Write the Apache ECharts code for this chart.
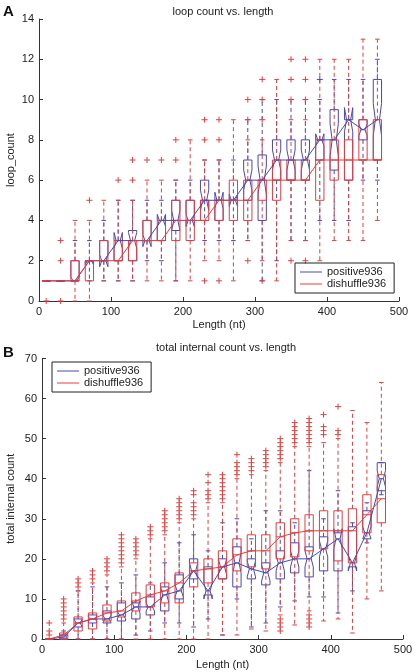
<!DOCTYPE html>
<html><head><meta charset="utf-8">
<script src="https://cdn.jsdelivr.net/npm/echarts@6/dist/echarts.min.js"></script>
<style>html,body{margin:0;padding:0;background:#fff}#c{width:415px;height:672px}</style>
</head><body><div id="c"></div>
<script>
// Bin centres (nt)
const binCenters = [10,30,50,70,90,110,130,150,170,190,210,230,250,270,290,310,330,350,370,390,410,430,450,470];

// Panel A: loop count. Each row: [lowWhisker, q1, median, q3, highWhisker]
const aPositiveStats = [
  [1,1,1,1,1],[1,1,1,1,1],[1,1,1,2,3],[1,2,2,2,3],[1,2,2,3,4],[1,2,3,3,5],
  [1,2,3,3.5,5],[2,3,3,4,5],[2,3,4,4,5],[1,3.5,4,5,6],[3,4,4,5,6],[3,5,5,6,7],
  [3,4,5,5,7],[3,5,5,5,7],[3,5,6,7,9],[1,4,6,7.25,10],[2,6,7,8,10],[3,6,7,8,10],
  [3,6,7,8,10],[4,7,8,8,10],[4,6.5,8,9.5,11],[4,6,9,9,11],[6,8,8.5,9,11],[6,7,9,11,12]
];
const aPositiveNotch = [
  [1,1],[1,1],[1,1.2],[1.8,2],[1.7,2.3],[2.6,3.4],[2.6,3.4],[2.7,3.3],[3.7,4.3],[3.5,4.5],
  [3.7,4.3],[4.5,5.5],[4.6,5.4],[4.7,5.3],[5.5,6.5],[5.3,6.7],[6.5,7.5],[6.5,7.5],[6.5,7.5],
  [7.7,8.3],[7.2,8.8],[8.4,9.6],[8.2,8.8],[8.2,9.8]
];
const aPositiveOutliers = [[],[],[],[],[],[],[],[],[],[],[],[],[],[],[],[],[],[],[],[11],[],[],[],[]];
const aDishuffleStats = [
  [1,1,1,1,1],[1,1,1,1,1],[0,1,1,2,4],[0,1,2,2,4],[1,2,2,3,5],[1,2,2,3,5],
  [1,2,3,3,5],[1,3,3,4,6],[1,3,3,4,6],[1,3,4,5,6],[1,3,4,5,8],[2,4,4,5,7],
  [2,4,5,5,7],[1,4,5,6,9],[3,4,5,6,8],[2,5,6,6,8],[1,5,6,7,11],[3,6,6,7,9],
  [3,6,6,7,9],[2,5,7,8,12],[3,6,7,8,12],[3,6,7,8,12],[3,7,7,9,13],[4,7,7,9,13]
];
const aDishuffleOutliers = [
  [0],[0,2,3],[],[5],[],[6],[6,7],[7],[7],[7,8],[],[1,8,9],
  [1,8,9],[],[2,9,10],[1,9,10,11],[],[2,10,11,12],[2,10,11,12],[],[],[],[],[]
];

// Panel B: total internal count
const bPositiveStats = [
  [0,0,0,0,0],[0,0,0.5,1,2],[0,3,4,5,12],[0,4,5,6,13],[0,4,5,7,13],[0,4.5,6,9,14],
  [1,5,8,9,16],[2,6,8,10.5,14],[4,7,11,13,19],[4,10,12,16,24],[3,15,17,20,26],[5,11,12,18,22],
  [1,15,18,20,29],[10,13,19,23,30],[3,15,17.5,20,25],[4,13.5,16.5,19,32],[8,15,19,22,32],[9.5,16.5,20,24,29],
  [10.5,15.5,20,23,42],[10.5,17,22.5,25.5,30],[6.5,17,25,26.5,37],[12,18,19,28,29],[24,25,26.5,32,34],[36,37,40,44,44]
];
const bPositiveNotch = [
  [0,0],[0,1],[3,5],[4.5,5.5],[4,6],[5,7],[6.5,9.5],[7,9],[9,13],[10.5,13.5],[15,19],[10,14],
  [16,20],[16.5,21.5],[15.5,19.5],[14.5,18.5],[17,21],[18,22],[18,22],[20.5,24.5],[22.5,27.5],[17,21],[25,28],[38,42]
];
const bPositiveOutliers = [[],[],[],[],[],[],[],[],[],[],[],[],[],[],[],[],[],[],[],[],[],[],[],[]];
const bDishuffleStats = [
  [0,0,0,0,0],[0,0,1,1.5,4],[0,2,4,5.5,12],[0,2.5,5,6.5,14],[0,4.5,6.5,8.5,16],[0,5.5,7,9.5,18],
  [0,7,9.5,11.5,20],[0,8,11,13.5,25],[0,9,12,14,26],[0,9,14,16.5,29],[0,13,17,19,30],[0,14,17.5,20,34],
  [1,15,18,22,34],[1,17,21,25,40],[2.5,18,22,26,41],[2,17.5,22,26,42],[6,20,25.5,29,44],[3.5,20.5,26.5,30,48],
  [7,22,27,31,48],[4.5,22.5,27,32,49],[5,19.5,27,32,50],[1.5,19,27,32.5,57],[10,26.5,31,36,54],[12,29,35,41,64]
];
const bDishuffleOutliers = [
  [1,2,4],[5,6,7,8,9,10],[13,14,15],[15,16,17],[17,18,19,20],[19,20,21,22,23,24,25,26],
  [21,22,23,24,25],[26,27,28],[27,28,29,30,31,32],[30,31,32,33,34,35],[31,32,33,34,36,37],[35,36,37,39,41],
  [35,36,37,38,39,40,41],[41,42,43,44,46],[42,43,44,45],[43,44,45,46,47],[2,3,4,5,45,46,47,48,49,50],[49,50,51,52,53,54],
  [3,4,5,6,49,50,51,52,53,54,55],[51,52,53,56],[51,52,58],[],[],[]
];

const RED = '#e63c3c', BLUE = '#4848b4', AXC = '#333';
const BOXW = 11.5;
const FONT = 'Liberation Sans, Arial, sans-serif';

function boxSeries(gi, stats, notch, color, z) {
  const data = binCenters.map((x, i) => [x].concat(stats[i], notch ? notch[i] : [stats[i][2], stats[i][2]]));
  return {
    type: 'custom', xAxisIndex: gi, yAxisIndex: gi, data: data, z: z, silent: true,
    renderItem: function (params, api) {
      const x = api.value(0), lw = api.value(1), q1 = api.value(2), md = api.value(3),
            q3 = api.value(4), uw = api.value(5), nl = api.value(6), nh = api.value(7);
      const y = v => api.coord([x, v])[1];
      const px = api.coord([x, md])[0];
      const hw = api.size([BOXW, 0])[0] / 2;
      const cw = hw * 0.55;
      const st = { stroke: color, lineWidth: 1, fill: null };
      const dash = { stroke: color, lineWidth: 1, lineDash: [4, 3], fill: null };
      const ch = [];
      if (uw > q3) ch.push({ type: 'line', shape: { x1: px, y1: y(q3), x2: px, y2: y(uw) }, style: dash });
      if (lw < q1) ch.push({ type: 'line', shape: { x1: px, y1: y(q1), x2: px, y2: y(lw) }, style: dash });
      ch.push({ type: 'line', shape: { x1: px - cw, y1: y(uw), x2: px + cw, y2: y(uw) }, style: st });
      ch.push({ type: 'line', shape: { x1: px - cw, y1: y(lw), x2: px + cw, y2: y(lw) }, style: st });
      let pts;
      if (notch) {
        pts = [[px - hw, y(q1)], [px - hw, y(nl)], [px - hw / 2, y(md)], [px - hw, y(nh)], [px - hw, y(q3)],
               [px + hw, y(q3)], [px + hw, y(nh)], [px + hw / 2, y(md)], [px + hw, y(nl)], [px + hw, y(q1)]];
      } else {
        pts = [[px - hw, y(q1)], [px - hw, y(q3)], [px + hw, y(q3)], [px + hw, y(q1)]];
      }
      ch.push({ type: 'polygon', shape: { points: pts }, style: st });
      const mw = notch ? hw / 2 : hw;
      ch.push({ type: 'line', shape: { x1: px - mw, y1: y(md), x2: px + mw, y2: y(md) }, style: st });
      return { type: 'group', children: ch };
    }
  };
}

function outlierSeries(gi, outs, color, z) {
  const data = [];
  binCenters.forEach((x, i) => outs[i].forEach(v => data.push([x, v])));
  return {
    type: 'custom', xAxisIndex: gi, yAxisIndex: gi, data: data, z: z, silent: true,
    renderItem: function (params, api) {
      const c = api.coord([api.value(0), api.value(1)]);
      const s = 3;
      return { type: 'group', children: [
        { type: 'line', shape: { x1: c[0] - s, y1: c[1], x2: c[0] + s, y2: c[1] }, style: { stroke: color, lineWidth: 1 } },
        { type: 'line', shape: { x1: c[0], y1: c[1] - s, x2: c[0], y2: c[1] + s }, style: { stroke: color, lineWidth: 1 } }
      ] };
    }
  };
}

function medianLine(gi, stats, color, name, z) {
  return {
    type: 'line', name: name, xAxisIndex: gi, yAxisIndex: gi, z: z, silent: true,
    data: binCenters.map((x, i) => [x, stats[i][2]]),
    symbol: 'none', lineStyle: { color: color, width: 1 }, itemStyle: { color: color }, animation: false
  };
}

function xAx(gi, gap) {
  return {
    type: 'value', gridIndex: gi, min: 0, max: 500, interval: 100,
    name: 'Length (nt)', nameLocation: 'middle', nameGap: gap, nameMoveOverlap: false,
    nameTextStyle: { fontSize: 11, color: '#222', fontFamily: FONT },
    axisLine: { show: true, lineStyle: { color: AXC, width: 1 } },
    axisTick: { show: true, inside: true, length: 4, lineStyle: { color: AXC } },
    axisLabel: { fontSize: 11, color: '#222', margin: 5, fontFamily: FONT },
    splitLine: { show: false }
  };
}
function yAx(gi, max, interval, name, gap) {
  return {
    type: 'value', gridIndex: gi, min: 0, max: max, interval: interval,
    name: name, nameLocation: 'middle', nameGap: gap, nameRotate: 90, nameMoveOverlap: false,
    nameTextStyle: { fontSize: 11, color: '#222', fontFamily: FONT },
    axisLine: { show: true, lineStyle: { color: AXC, width: 1 } },
    axisTick: { show: true, inside: true, length: 4, lineStyle: { color: AXC } },
    axisLabel: { fontSize: 11, color: '#222', margin: 5, fontFamily: FONT },
    splitLine: { show: false }
  };
}
function legendAt(left, top) {
  return {
    orient: 'vertical', left: left, top: top, data: ['positive936', 'dishuffle936'],
    icon: 'rect', itemWidth: 22, itemHeight: 1, itemGap: 0, selectedMode: false,
    borderColor: '#222', borderWidth: 1, borderRadius: 0, padding: [3, 8, 3, 5],
    textStyle: { fontSize: 11, color: '#222', fontFamily: FONT, lineHeight: 12 }
  };
}

const chart = echarts.init(document.getElementById('c'), null, { renderer: 'canvas' });
chart.setOption({
  animation: false,
  backgroundColor: '#fff',
  title: [
    { text: 'loop count vs. length', left: 218, top: 1, textAlign: 'center',
      textStyle: { fontSize: 11, fontWeight: 'normal', color: '#222', fontFamily: FONT } },
    { text: 'total internal count vs. length', left: 221, top: 337, textAlign: 'center',
      textStyle: { fontSize: 11, fontWeight: 'normal', color: '#222', fontFamily: FONT } }
  ],
  graphic: [
    { type: 'text', left: 3, top: 4, style: { text: 'A', fontSize: 15, fontWeight: 'bold', fill: '#111', fontFamily: FONT } },
    { type: 'text', left: 3, top: 345, style: { text: 'B', fontSize: 15, fontWeight: 'bold', fill: '#111', fontFamily: FONT } }
  ],
  legend: [legendAt(295, 263), legendAt(52, 362)],
  grid: [
    { left: 39, top: 19, width: 360, height: 282, containLabel: false, outerBoundsMode: 'none' },
    { left: 42, top: 358.5, width: 361, height: 280.5, containLabel: false, outerBoundsMode: 'none' }
  ],
  xAxis: [xAx(0, 18), xAx(1, 20)],
  yAxis: [yAx(0, 14, 2, 'loop_count', 23), yAx(1, 70, 10, 'total internal count', 26)],
  series: [
    boxSeries(0, aPositiveStats, aPositiveNotch, BLUE, 2),
    outlierSeries(0, aPositiveOutliers, BLUE, 2),
    boxSeries(0, aDishuffleStats, null, RED, 3),
    outlierSeries(0, aDishuffleOutliers, RED, 3),
    medianLine(0, aPositiveStats, BLUE, 'positive936', 4),
    medianLine(0, aDishuffleStats, RED, 'dishuffle936', 4),
    boxSeries(1, bPositiveStats, bPositiveNotch, BLUE, 2),
    outlierSeries(1, bPositiveOutliers, BLUE, 2),
    boxSeries(1, bDishuffleStats, null, RED, 3),
    outlierSeries(1, bDishuffleOutliers, RED, 3),
    medianLine(1, bPositiveStats, BLUE, 'positive936', 4),
    medianLine(1, bDishuffleStats, RED, 'dishuffle936', 4)
  ]
});
</script>
</body></html>
